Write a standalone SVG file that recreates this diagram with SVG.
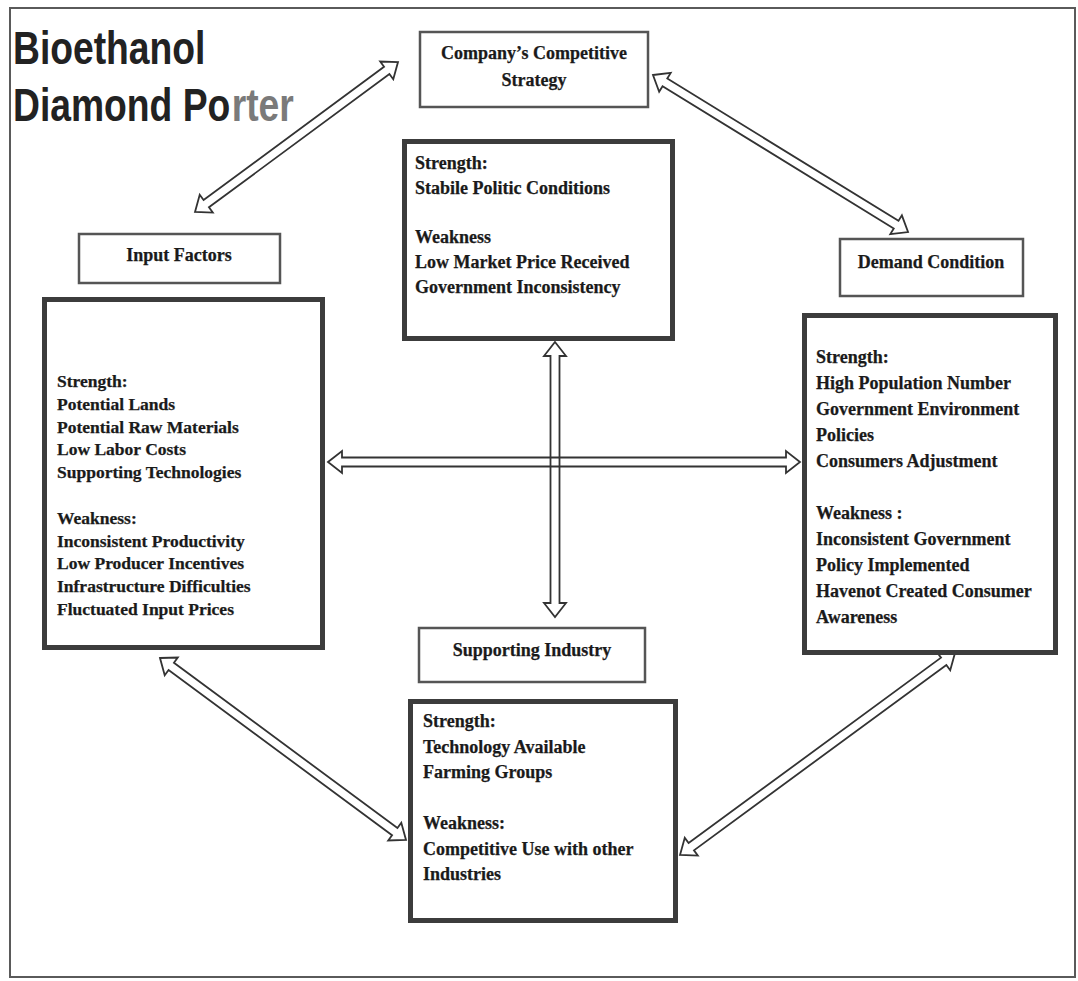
<svg xmlns="http://www.w3.org/2000/svg" width="1078" height="981" viewBox="0 0 1078 981">
<style>
.frame{fill:#fff;stroke:#5a5a5a;stroke-width:2}
.big{fill:#fff;stroke:#3c3c3c;stroke-width:5}
.small{fill:#fff;stroke:#555;stroke-width:2.5}
.t{font-family:"Liberation Serif","Times New Roman",serif;font-weight:bold;font-size:18px;fill:#1a1a1a;stroke:#1a1a1a;stroke-width:0.25}
.tl{font-size:17.5px}
.c{text-anchor:middle}
.title{font-family:"Liberation Sans",Arial,sans-serif;font-weight:bold;font-size:46px;fill:#222}
.grey{fill:#7a7a7a}
.arrow{fill:none;stroke:#333;stroke-width:1.8;stroke-linejoin:miter}
</style>
<rect class="frame" x="10" y="8" width="1065" height="969"/>
<g id="title" transform="translate(13,0) scale(0.81,1)">
<text class="title" x="0" y="64">Bioethanol</text>
<text class="title" x="0" y="121">Diamond Po</text>
<text class="title grey" x="270" y="121">rter</text>
</g>
<g id="connectors">
<path class="arrow" transform="translate(195,212) rotate(-36.46)" d="M0,0 L14,-11 L14,-4.5 L238.4,-4.5 L238.4,-11 L252.4,0 L238.4,11 L238.4,4.5 L14,4.5 L14,11 Z"/>
<path class="arrow" transform="translate(653,75) rotate(31.62)" d="M0,0 L14,-11 L14,-4.5 L285.5,-4.5 L285.5,-11 L299.5,0 L285.5,11 L285.5,4.5 L14,4.5 L14,11 Z"/>
<path class="arrow" transform="translate(160,658) rotate(36.49)" d="M0,0 L14,-11 L14,-4.5 L292,-4.5 L292,-11 L306,0 L292,11 L292,4.5 L14,4.5 L14,11 Z"/>
<path class="arrow" transform="translate(680,855) rotate(-36.3)" d="M0,0 L14,-11 L14,-4.5 L327.2,-4.5 L327.2,-11 L341.2,0 L327.2,11 L327.2,4.5 L14,4.5 L14,11 Z"/>
<path class="arrow" transform="translate(328,462)" d="M0,0 L14,-11 L14,-4.5 L458,-4.5 L458,-11 L472,0 L458,11 L458,4.5 L14,4.5 L14,11 Z"/>
<path class="arrow" transform="translate(555,342) rotate(90)" d="M0,0 L14,-11 L14,-4.5 L261,-4.5 L261,-11 L275,0 L261,11 L261,4.5 L14,4.5 L14,11 Z"/>
</g>
<g id="company-strategy">
<rect class="small" x="420" y="32" width="228" height="75"/>
<text class="t c" x="534" y="59">Company’s Competitive</text>
<text class="t c" x="534" y="86">Strategy</text>
</g>
<g id="strategy-details">
<rect class="big" x="404.5" y="141.5" width="268" height="197"/>
<text class="t" x="415" y="169">Strength:</text>
<text class="t" x="415" y="194">Stabile Politic Conditions</text>
<text class="t" x="415" y="243">Weakness</text>
<text class="t" x="415" y="268">Low Market Price Received</text>
<text class="t" x="415" y="293">Government Inconsistency</text>
</g>
<g id="input-factors">
<rect class="small" x="79" y="234" width="201" height="49"/>
<text class="t c" x="179" y="261">Input Factors</text>
</g>
<g id="input-details">
<rect class="big" x="44.5" y="299.5" width="278" height="348"/>
<text class="t tl" x="57" y="387">Strength:</text>
<text class="t tl" x="57" y="410">Potential Lands</text>
<text class="t tl" x="57" y="433">Potential Raw Materials</text>
<text class="t tl" x="57" y="455">Low Labor Costs</text>
<text class="t tl" x="57" y="478">Supporting Technologies</text>
<text class="t tl" x="57" y="524">Weakness:</text>
<text class="t tl" x="57" y="547">Inconsistent Productivity</text>
<text class="t tl" x="57" y="569">Low Producer Incentives</text>
<text class="t tl" x="57" y="592">Infrastructure Difficulties</text>
<text class="t tl" x="57" y="615">Fluctuated Input Prices</text>
</g>
<g id="demand-condition">
<rect class="small" x="840" y="239" width="183" height="57"/>
<text class="t c" x="931" y="268">Demand Condition</text>
</g>
<g id="demand-details">
<rect class="big" x="804.5" y="315.5" width="251" height="337"/>
<text class="t" x="816" y="363">Strength:</text>
<text class="t" x="816" y="389">High Population Number</text>
<text class="t" x="816" y="415">Government Environment</text>
<text class="t" x="816" y="441">Policies</text>
<text class="t" x="816" y="467">Consumers Adjustment</text>
<text class="t" x="816" y="519">Weakness :</text>
<text class="t" x="816" y="545">Inconsistent Government</text>
<text class="t" x="816" y="571">Policy Implemented</text>
<text class="t" x="816" y="597">Havenot Created Consumer</text>
<text class="t" x="816" y="623">Awareness</text>
</g>
<g id="supporting-industry">
<rect class="small" x="419" y="628" width="226" height="54"/>
<text class="t c" x="532" y="656">Supporting Industry</text>
</g>
<g id="supporting-details">
<rect class="big" x="410.5" y="701.5" width="265" height="219"/>
<text class="t" x="423" y="727">Strength:</text>
<text class="t" x="423" y="752.5">Technology Available</text>
<text class="t" x="423" y="778">Farming Groups</text>
<text class="t" x="423" y="829">Weakness:</text>
<text class="t" x="423" y="854.5">Competitive Use with other</text>
<text class="t" x="423" y="880">Industries</text>
</g>
</svg>
